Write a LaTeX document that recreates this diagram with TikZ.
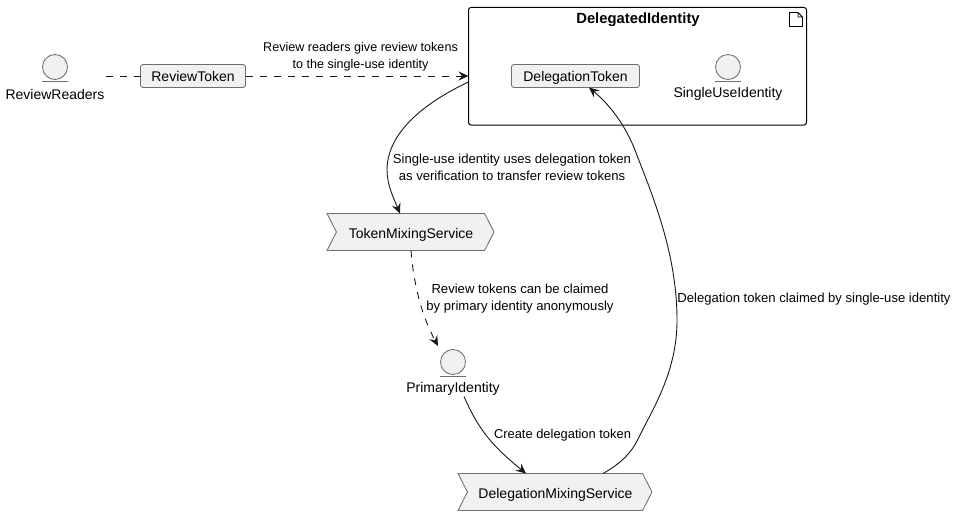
\documentclass[tikz,border=0pt]{standalone}
\usepackage{fontspec}
\setmainfont{Liberation Sans}
\usetikzlibrary{arrows.meta,shapes.symbols,calc}
\definecolor{ink}{HTML}{181818}
\definecolor{edge}{HTML}{6E6E6E}
\definecolor{nodefill}{HTML}{F1F1F1}
\tikzset{
  x=1pt,y=-1pt,
  every node/.style={inner sep=0pt,outer sep=0pt,text=black,font=\fontsize{14}{16}\selectfont},
  agentbox/.style={draw=edge,line width=.85pt,fill=nodefill,rounded corners=2.5pt,minimum height=23pt,anchor=center,text height=12pt,text depth=0pt},
  chevron/.style={draw=edge,line width=.85pt,fill=nodefill,signal,signal to=east,signal from=west,signal pointer angle=126,minimum height=37pt,text height=12pt,text depth=0pt},
  entitycircle/.style={circle,draw=edge,line width=.85pt,fill=nodefill,minimum size=25pt},
  entitybar/.style={draw=edge,line width=.85pt},
  cluster/.style={draw=black,line width=1pt,rounded corners=2.5pt,fill=white},
  conn/.style={draw=ink,line width=.9pt,-{Stealth[length=10pt,width=9pt,inset=3.5pt]}},
  connplain/.style={draw=ink,line width=.9pt},
  dashconn/.style={dash pattern=on 7pt off 7pt},
  lbl/.style={font=\fontsize{13.1}{17}\selectfont,align=center},
  title/.style={font=\bfseries\fontsize{14.8}{16}\selectfont}
}
\newcommand{\entity}[4]{% name, x, y, label
  \node[entitycircle] (#1) at (#2,#3) {};
  \draw[entitybar] ($(#1.center)+(-13,14)$) -- ($(#1.center)+(13,14)$);
  \node (#1label) at ($(#1.center)+(0,27)$) {#4};
}
\begin{document}
\begin{tikzpicture}
\useasboundingbox (0,0) rectangle (957,516);
% container
\node[cluster,minimum width=338pt,minimum height=117.5pt] (di) at (637.5,66.25) {};
\node[title] (dititle) at (638,20) {DelegatedIdentity};
\draw[line width=.8pt,draw=black] (789.5,12.5) -- (798,12.5) -- (802.5,17) -- (802.5,26.5) -- (789.5,26.5) -- cycle (798,12.5) -- (798,17) -- (802.5,17);
% nodes
\entity{rr}{55}{67}{ReviewReaders}
\node[agentbox,minimum width=105pt] (rt) at (193,76) {ReviewToken};
\node[agentbox,minimum width=128pt] (dt) at (575.5,76) {DelegationToken};
\entity{su}{728}{67}{SingleUseIdentity}
\node[chevron,minimum width=167pt] (tms) at (410.5,232) {\hspace*{1pt}TokenMixingService};
\entity{pi}{453}{362}{PrimaryIdentity}
\node[chevron,minimum width=194pt] (dms) at (555,492) {\hspace*{1pt}DelegationMixingService};
% connectors
\draw[connplain,dashconn] ([xshift=-35pt]rt.west) -- (rt.west);
\draw[conn,dashconn] (rt.east) -- ([yshift=-9.75pt]di.west);
\draw[conn] ([yshift=-15.75pt]di.west) .. controls (430,100) and (387,130) .. (387,170) .. controls (387,185) and (394,199) .. ([xshift=-10.5pt]tms.north);
\draw[conn,dashconn] ([xshift=0.5pt]tms.south) .. controls (414,290) and (424,320) .. ([xshift=-15pt,yshift=3.5pt]pi.north);
\draw[conn] ([xshift=11pt,yshift=-1pt]pilabel.south) .. controls (480,433) and (495,448) .. ([xshift=-29pt]dms.north);
\draw[conn] ([xshift=48pt]dms.north) .. controls (625,461) and (633,450) .. (640,435) .. controls (655,405) and (677,370) .. (677,320) .. controls (677,250) and (650,190) .. (635,150) .. controls (625,125) and (610,105) .. ([xshift=13.5pt]dt.south);
% labels
\node[lbl,font=\fontsize{12.6}{17}\selectfont] (l1) at (360.5,57) {Review readers give review tokens\\to the single-use identity};
\node[lbl] (l2) at (512,167) {Single-use identity uses delegation token\\as verification to transfer review tokens};
\node[lbl] (l3) at (520,298.5) {Review tokens can be claimed\\by primary identity anonymously};
\node[lbl,font=\fontsize{12.9}{17}\selectfont] (l4) at (562.5,435) {Create delegation token};
\node[lbl] (l5) at (814,299) {Delegation token claimed by single-use identity};
\end{tikzpicture}
\end{document}
